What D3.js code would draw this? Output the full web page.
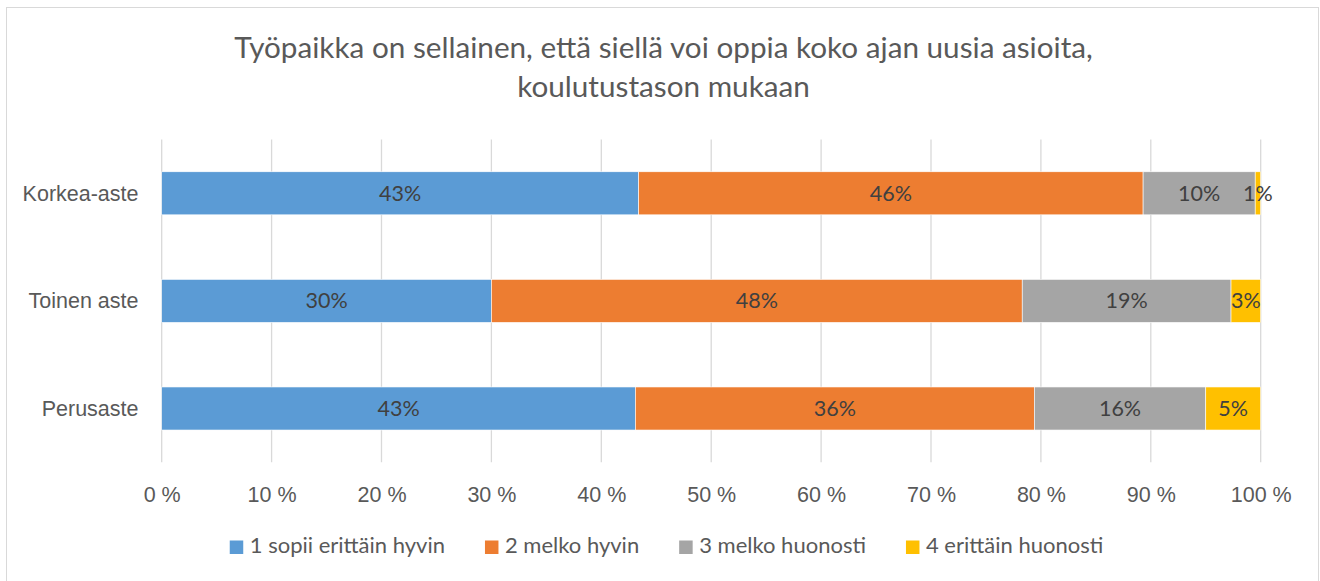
<!DOCTYPE html>
<html>
<head>
<meta charset="utf-8">
<script src="https://cdn.jsdelivr.net/npm/d3@7"></script>
<style>
  body { margin: 0; background: #fff; }
  svg { display: block; font-family: Lato, "Open Sans", sans-serif; }
</style>
</head>
<body>
<div id="chart"></div>
<script>
// categories (top to bottom) and series values in percent
var categories = ["Korkea-aste", "Toinen aste", "Perusaste"];
var seriesNames = ["1 sopii erittäin hyvin", "2 melko hyvin", "3 melko huonosti", "4 erittäin huonosti"];
var sopiiHyvin = [43.4, 30.0, 43.1];
var melkoHyvin = [45.9, 48.3, 36.3];
var melkoHuonosti = [10.2, 19.0, 15.6];
var erittainHuonosti = [0.5, 2.7, 5.0];
var xTicks = [0, 10, 20, 30, 40, 50, 60, 70, 80, 90, 100];
var titleLines = ["Työpaikka on sellainen, että siellä voi oppia koko ajan uusia asioita,",
                  "koulutustason mukaan"];

var colors = ["#5B9BD5", "#ED7D31", "#A5A5A5", "#FFC000"];

var width = 1320, height = 581;
var margin = {top: 139.5, right: 59.3, bottom: 118.7, left: 161.7};

var svg = d3.select("#chart").append("svg")
    .attr("width", width)
    .attr("height", height);

// outer chart border
svg.append("rect")
    .attr("x", 6.5).attr("y", 7.5)
    .attr("width", 1312).attr("height", 580)
    .attr("fill", "none")
    .attr("stroke", "#D9D9D9");

// build rows for the stack
var keys = seriesNames;
var rows = categories.map(function(c, i) {
    var r = {category: c};
    r[keys[0]] = sopiiHyvin[i];
    r[keys[1]] = melkoHyvin[i];
    r[keys[2]] = melkoHuonosti[i];
    r[keys[3]] = erittainHuonosti[i];
    return r;
});
var stacked = d3.stack().keys(keys)(rows);

var x = d3.scaleLinear()
    .domain([0, 100])
    .range([margin.left, width - margin.right]);

var y = d3.scaleBand()
    .domain(categories)
    .range([margin.top, height - margin.bottom])
    .paddingInner(0.6)
    .paddingOuter(0.3);

// gridlines
svg.append("g")
    .selectAll("line")
    .data(xTicks)
    .join("line")
    .attr("x1", function(d) { return x(d); })
    .attr("x2", function(d) { return x(d); })
    .attr("y1", margin.top)
    .attr("y2", height - margin.bottom)
    .attr("stroke", "#D9D9D9")
    .attr("stroke-width", 1.3);

// x axis labels
var xAxis = d3.axisBottom(x)
    .tickValues(xTicks)
    .tickSize(0)
    .tickPadding(0)
    .tickFormat(function(d) { return d + " %"; });

var gx = svg.append("g")
    .attr("transform", "translate(0," + (height - margin.bottom) + ")")
    .call(xAxis);
gx.select(".domain").remove();
gx.selectAll("text")
    .attr("dy", null)
    .attr("y", 39.4)
    .attr("fill", "#595959")
    .style("font-size", "21.5px");

// y axis labels
var yAxis = d3.axisLeft(y).tickSize(0).tickPadding(0);
var gy = svg.append("g")
    .attr("transform", "translate(138.5,0)")
    .call(yAxis);
gy.select(".domain").remove();
gy.selectAll("text")
    .attr("dy", "0.35em")
    .attr("fill", "#595959")
    .style("font-size", "21.5px");

// bars
var layer = svg.append("g")
    .selectAll("g")
    .data(stacked)
    .join("g")
    .attr("fill", function(d, i) { return colors[i]; });

layer.selectAll("rect")
    .data(function(d) { return d; })
    .join("rect")
    .attr("x", function(d) { return x(d[0]); })
    .attr("y", function(d) { return y(d.data.category); })
    .attr("width", function(d) { return x(d[1]) - x(d[0]); })
    .attr("height", y.bandwidth())
    .attr("stroke", "#fff")
    .attr("stroke-width", 0.6);

// data labels
layer.selectAll("text")
    .data(function(d) { return d; })
    .join("text")
    .attr("x", function(d) { return (x(d[0]) + x(d[1])) / 2; })
    .attr("y", function(d) { return y(d.data.category) + y.bandwidth() / 2; })
    .attr("dy", "0.35em")
    .attr("text-anchor", "middle")
    .attr("fill", "#404040")
    .style("font-size", "21.5px")
    .text(function(d) { return Math.round(d[1] - d[0]) + "%"; });

// title
svg.append("text")
    .attr("text-anchor", "middle")
    .attr("fill", "#595959")
    .style("font-size", "29.7px")
    .selectAll("tspan")
    .data(titleLines)
    .join("tspan")
    .attr("x", 663.5)
    .attr("y", function(d, i) { return 58.3 + i * 38.4; })
    .text(function(d) { return d; });

// legend
var legend = svg.append("g");
var items = legend.selectAll("g")
    .data(seriesNames)
    .join("g");
items.append("rect")
    .attr("width", 13.5)
    .attr("height", 13.5)
    .attr("y", 540.5)
    .attr("fill", function(d, i) { return colors[i]; });
items.append("text")
    .attr("x", 20)
    .attr("y", 553)
    .attr("fill", "#595959")
    .style("font-size", "22px")
    .text(function(d) { return d; });

var offset = 0, offsets = [];
items.each(function() {
    offsets.push(offset);
    offset += 20 + d3.select(this).select("text").node().getComputedTextLength() + 40;
});
var total = offset - 40;
var startX = 666.5 - total / 2;
items.attr("transform", function(d, i) { return "translate(" + (startX + offsets[i]) + ",0)"; });
</script>
</body>
</html>
